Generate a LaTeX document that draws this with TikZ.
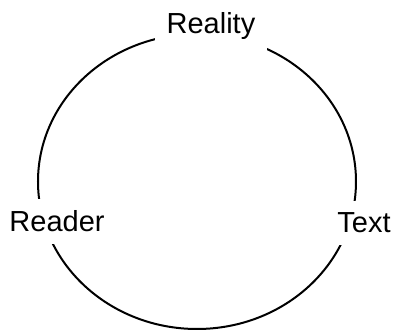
\documentclass[tikz,border=0pt]{standalone}
\usepackage{fontspec}
\setmainfont{Liberation Sans}
\usetikzlibrary{positioning}
\tikzset{
  term/.style={fill=white,inner xsep=6pt,inner ysep=6pt,font=\fontsize{14.5}{17}\selectfont},
  cycleline/.style={line width=1pt,black}
}

\begin{document}
\begin{tikzpicture}[x=0.5pt,y=-0.5pt]
  \useasboundingbox (0,0) rectangle (393,332);
  \draw[cycleline] (197,181.5) ellipse [x radius=159,y radius=147.5];
  \node[term,anchor=base] (reality) at (211,33) {Reality};
  \node[term,anchor=base] (reader) at (57,232) {Reader};
  \node[term,anchor=base] (text) at (364,233) {Text};
\end{tikzpicture}
\end{document}
